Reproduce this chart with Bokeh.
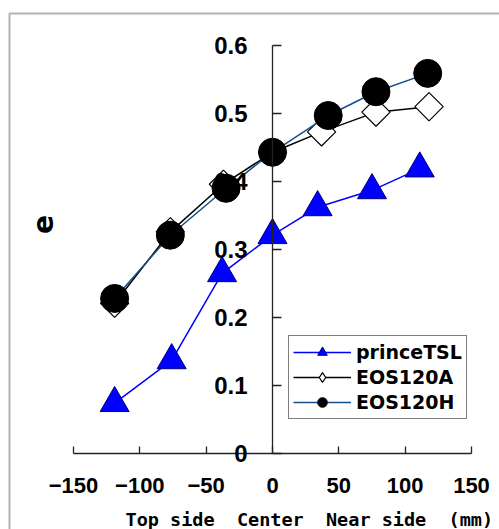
import math
from bokeh.plotting import figure
from bokeh.models import Range1d, FixedTicker, Label, Legend, LegendItem, BoxAnnotation
from bokeh.embed import file_html
from bokeh.resources import INLINE

# ---- data ----
x_tsl = [-119, -76, -38, 0, 34, 75, 111]
e_tsl = [0.074, 0.137, 0.265, 0.321, 0.362, 0.387, 0.419]
x_a = [-119, -77, -37, 0, 37, 78, 118]
e_a = [0.221, 0.326, 0.396, 0.443, 0.473, 0.502, 0.510]
x_h = [-119, -77, -35, 0, 42, 78, 117]
e_h = [0.228, 0.321, 0.390, 0.443, 0.497, 0.532, 0.559]

series_names = ["princeTSL", "EOS120A", "EOS120H"]
x_ticks = [-150, -100, -50, 0, 50, 100, 150]
y_ticks = [0, 0.1, 0.2, 0.3, 0.4, 0.5, 0.6]
y_tick_labels = ["0", "0.1", "0.2", "0.3", "0.4", "0.5", "0.6"]
x_tick_labels = ["\u2212150", "\u2212100", "\u221250", "0", "50", "100", "150"]
y_title = "e"
x_title = "Top side\u00a0\u00a0Center\u00a0\u00a0Near side\u00a0\u00a0(mm)"

# ---- layout (pixels) ----
W, H = 499, 529
PX_X0, PX_X1 = 73, 471      # pixel of x=-150 and x=150
PX_Y0, PX_Y1 = 453, 45      # pixel of y=0 and y=0.6
sx = (PX_X1 - PX_X0) / 300.0
sy = (PX_Y0 - PX_Y1) / 0.6

def px2x(px):
    return -150 + (px - PX_X0) / sx

def px2y(py):
    return (PX_Y0 - py) / sy

p = figure(width=W, height=H,
           x_range=Range1d(px2x(0), px2x(W)),
           y_range=Range1d(px2y(H), px2y(0)),
           output_backend="svg", toolbar_location=None,
           min_border_left=0, min_border_top=0,
           min_border_right=0, min_border_bottom=0,
           background_fill_color="white", border_fill_color="white",
           outline_line_color=None)
p.xgrid.visible = False
p.ygrid.visible = False

# outer border of the picture (left and top edges visible)
p.add_layout(BoxAnnotation(left=px2x(9), top=px2y(13), right=px2x(W + 20), bottom=px2y(H + 20),
                           fill_color=None, line_color="black", line_width=2, level="underlay"))

TICK_FONT = "Liberation Sans"
AX = "#222222"

xa = p.xaxis[0]
xa.fixed_location = 0
xa.bounds = (-150, 150)
xa.ticker = FixedTicker(ticks=x_ticks)
xa.major_label_overrides = {t: l for t, l in zip(x_ticks, x_tick_labels)}
xa.major_tick_in = 7
xa.major_tick_out = 0
xa.minor_tick_line_color = None
xa.axis_line_color = AX
xa.major_tick_line_color = AX
xa.axis_line_width = 1.3
xa.major_tick_line_width = 1.3
xa.major_label_standoff = 24
xa.major_label_text_font = TICK_FONT
xa.major_label_text_font_style = "bold"
xa.major_label_text_font_size = "22px"
xa.major_label_text_color = "black"

ya = p.yaxis[0]
ya.fixed_location = 0
ya.bounds = (0, 0.6)
ya.ticker = FixedTicker(ticks=y_ticks)
ya.major_label_overrides = {t: l for t, l in zip(y_ticks, y_tick_labels)}
ya.major_tick_in = 9
ya.major_tick_out = 0
ya.minor_tick_line_color = None
ya.axis_line_color = AX
ya.major_tick_line_color = AX
ya.axis_line_width = 1.3
ya.major_tick_line_width = 1.3
ya.major_label_standoff = 25
ya.major_label_text_font = TICK_FONT
ya.major_label_text_font_style = "bold"
ya.major_label_text_font_size = "24px"
ya.major_label_text_color = "black"

# ---- series ----
l1 = p.line(x_tsl, e_tsl, line_color="#0000FF", line_width=1.5)
m1 = p.scatter(x_tsl, e_tsl, marker="triangle", size=29,
               fill_color="#0000FF", line_color="#000080", line_width=1)
l2 = p.line(x_a, e_a, line_color="black", line_width=1.5)
# diamond swatch used by the legend (legend markers are drawn unrotated);
# it sits hidden under the rotated-square markers drawn next
m2_key = p.scatter(x_a, e_a, marker="diamond", size=20,
                   fill_color="white", line_color="black", line_width=1.2)
m2 = p.scatter(x_a, e_a, marker="square", angle=math.pi / 4, size=20,
               fill_color="white", line_color="black", line_width=1.2)
l3 = p.line(x_h, e_h, line_color="#164E8A", line_width=1.5)
m3 = p.scatter(x_h, e_h, marker="circle", size=28,
               fill_color="black", line_color="black", line_width=1)

legend = Legend(items=[LegendItem(label=series_names[0], renderers=[l1, m1]),
                       LegendItem(label=series_names[1], renderers=[l2, m2_key]),
                       LegendItem(label=series_names[2], renderers=[l3, m3])],
                location=(288, H - 419),
                padding=4, spacing=1, glyph_width=58, glyph_height=24,
                label_height=24, label_standoff=5, margin=0,
                border_line_color="black", border_line_width=1,
                background_fill_color="white", background_fill_alpha=1,
                label_text_font="DejaVu Sans", label_text_font_style="bold",
                label_text_font_size="19px", label_text_color="black")
p.add_layout(legend)

p.add_layout(Label(x=px2x(42), y=px2y(224), text=y_title, angle=math.pi / 2,
                   text_align="center", text_baseline="middle",
                   text_font="DejaVu Sans", text_font_style="bold",
                   text_font_size="28px", text_color="black"))
p.add_layout(Label(x=px2x(125), y=px2y(519), text=x_title,
                   text_align="left", text_baseline="alphabetic",
                   text_font="DejaVu Sans Mono", text_font_style="bold",
                   text_font_size="18.5px", text_color="black"))

open("out.html", "w").write(file_html(p, INLINE))
